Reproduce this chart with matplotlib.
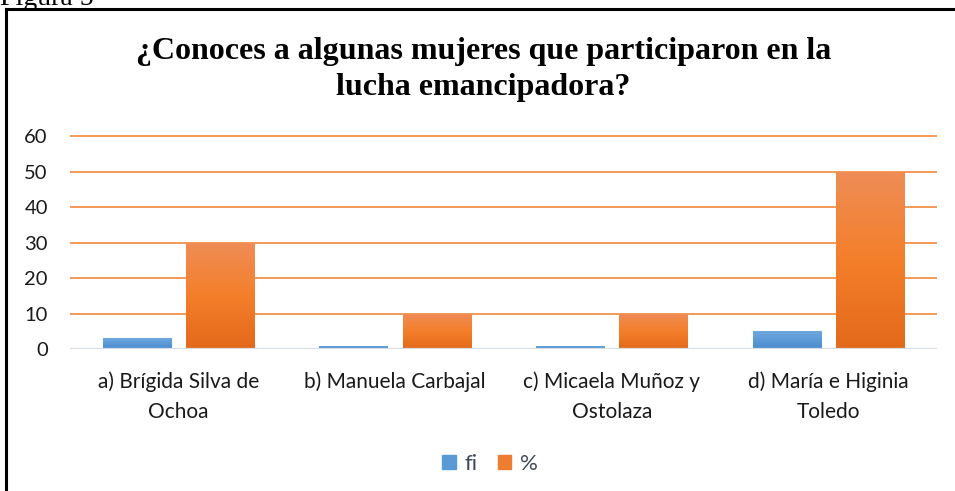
import numpy as np
import matplotlib
matplotlib.use("Agg")
import matplotlib.pyplot as plt
from matplotlib.colors import LinearSegmentedColormap
from matplotlib.lines import Line2D
from matplotlib.patches import Patch

# Datos del grafico
categorias = ["a) Brígida Silva de\nOchoa", "b) Manuela Carbajal",
              "c) Micaela Muñoz y\nOstolaza", "d) María e Higinia\nToledo"]
fi = [3, 1, 1, 5]
porcentaje = [30, 10, 10, 50]
yticks = [0, 10, 20, 30, 40, 50, 60]
titulo = "¿Conoces a algunas mujeres que participaron en la\nlucha emancipadora?"

fuente = "Lato"
azul_cmap = LinearSegmentedColormap.from_list("azul", ["#4a8bcf", "#6ea8de"])
naranja_cmap = LinearSegmentedColormap.from_list("naranja", ["#e2691a", "#f47f2a", "#ef8d57"])

fig = plt.figure(figsize=(9.55, 4.91), dpi=100)
ax = fig.add_axes([0.0733, 0.289, 0.9077, 0.436])

x = np.arange(len(categorias))
ancho = 0.314
sep = 0.07
barras_fi = ax.bar(x - (ancho + sep) / 2, fi, ancho, color="#5b9bd5", zorder=3)
barras_pc = ax.bar(x + (ancho + sep) / 2, porcentaje, ancho, color="#ed7d31", zorder=3)

# Degradado dentro de cada barra
grad = np.linspace(0, 1, 256).reshape(-1, 1)
for barras, cmap in [(barras_fi, azul_cmap), (barras_pc, naranja_cmap)]:
    for b in barras:
        x0, y0 = b.get_x(), b.get_y()
        w, h = b.get_width(), b.get_height()
        im = ax.imshow(grad, cmap=cmap, origin="lower", aspect="auto",
                       extent=[x0, x0 + w, y0, y0 + h], zorder=4)
        im.set_clip_path(b)

ax.set_xlim(-0.5, len(categorias) - 0.5)
ax.set_ylim(0, 60.3)
ax.set_yticks(yticks)
ax.set_xticks(x)
ax.set_xticklabels(categorias, fontsize=15, family=fuente, color="#1a1a1a", linespacing=1.6)
ax.set_yticklabels([str(v) for v in yticks], fontsize=14.5, family=fuente, color="#1a1a1a")
ax.tick_params(length=0, pad=16)
ax.tick_params(axis="y", pad=16)
ax.yaxis.grid(True, color="#f4914a", linewidth=1.3, zorder=0)
ax.axhline(0, color="#d9dee6", linewidth=1.6, zorder=5)
for s in ax.spines.values():
    s.set_visible(False)

fig.text(0.506, 0.859, titulo, ha="center", va="center", fontsize=23,
         family="Liberation Serif", fontweight="bold", linespacing=1.3)

# Leyenda
handles = [Patch(color="#5b9bd5", label="fi"), Patch(color="#ed7d31", label="%")]
fig.legend(handles=handles, loc="center", bbox_to_anchor=(0.513, 0.055), ncol=2,
           frameon=False, prop={"family": fuente, "size": 16}, handlelength=0.6,
           handleheight=0.6, handletextpad=0.4, columnspacing=0.9, labelcolor="#404a5a")

# Marco y texto "Figura 5" recortado
fig.add_artist(Line2D([0.0065, 0.0065], [0, 0.982], color="black", linewidth=2.2, transform=fig.transFigure))
fig.add_artist(Line2D([0.0065, 1], [0.982, 0.982], color="black", linewidth=2.2, transform=fig.transFigure))
fig.text(0.0, 0.99, "Figura 5", ha="left", va="baseline", fontsize=20, family="Liberation Serif")

fig.savefig("out.png", dpi=100)
